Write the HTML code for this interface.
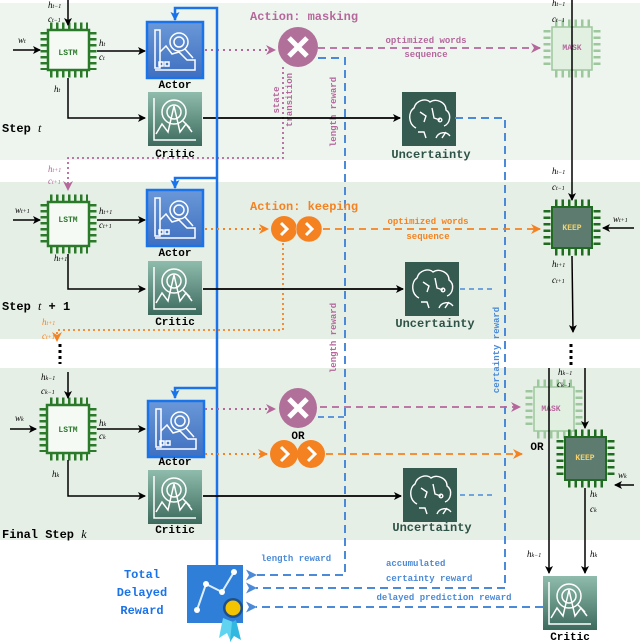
<!DOCTYPE html>
<html><head><meta charset="utf-8"><style>
html,body{margin:0;padding:0;background:#fff}
svg{display:block}
.m{font-family:"Liberation Mono",monospace;font-weight:bold}
.s{font-family:"Liberation Serif",serif;font-style:italic;font-size:9px}
</style></head><body>
<svg width="640" height="642" viewBox="0 0 640 642" xmlns="http://www.w3.org/2000/svg">
<defs>
<marker id="ak" markerWidth="8" markerHeight="8" refX="7" refY="4" orient="auto" markerUnits="userSpaceOnUse"><path d="M0,0 L8,4 L0,8 L2,4z" fill="#000"/></marker>
<marker id="ab" markerWidth="9" markerHeight="9" refX="8" refY="4.5" orient="auto" markerUnits="userSpaceOnUse"><path d="M0,0 L9,4.5 L0,9 L2,4.5z" fill="#1a73e8"/></marker>
<marker id="ad" markerWidth="11" markerHeight="11" refX="1" refY="5.5" orient="auto" markerUnits="userSpaceOnUse"><path d="M11,0 L0,5.5 L11,11 L8,5.5z" fill="#4a8ad8"/></marker>
<marker id="ap" markerWidth="10" markerHeight="10" refX="9" refY="5" orient="auto" markerUnits="userSpaceOnUse"><path d="M0,0 L10,5 L0,10 L3,5z" fill="#b5679c"/></marker>
<marker id="ao" markerWidth="10" markerHeight="10" refX="9" refY="5" orient="auto" markerUnits="userSpaceOnUse"><path d="M0,0 L10,5 L0,10 L3,5z" fill="#f58220"/></marker>
<linearGradient id="ga" x1="0" y1="0" x2="0" y2="1"><stop offset="0" stop-color="#6a98d8"/><stop offset="1" stop-color="#3f6fc0"/></linearGradient>
<linearGradient id="gc" x1="0" y1="0" x2="0" y2="1"><stop offset="0" stop-color="#8fbcad"/><stop offset="1" stop-color="#3c6a5c"/></linearGradient>
<g id="actor"><rect x="0" y="0" width="56" height="56" fill="url(#ga)" stroke="#1a73e8" stroke-width="2.5"/>
<g fill="none" stroke="#fff" stroke-width="1.5"><rect x="8" y="8" width="5" height="38"/><path d="M13,30 L19,24 L25,32 L32,30 L40,38 L48,38 L48,48 L8,48"/><circle cx="32" cy="20" r="9"/><circle cx="32" cy="20" r="5"/><path d="M38,27 L46,36"/><rect x="12" y="40" width="4" height="4"/><rect x="18" y="40" width="4" height="4"/></g></g>
<g id="critic"><rect x="0" y="0" width="54" height="54" fill="url(#gc)"/>
<g fill="none" stroke="#fff" stroke-width="1.5"><path d="M6,6 L6,48 L48,48"/><circle cx="26" cy="20" r="12"/><circle cx="26" cy="20" r="7"/><path d="M8,42 L14,32 L20,40 L26,14 L32,40 L38,32 L44,40"/><path d="M34,28 L42,36"/></g></g>
<g id="unc"><rect x="0" y="0" width="54" height="54" fill="#355a4f"/>
<g fill="none" stroke="#fff" stroke-width="1.4"><path d="M14,36 C6,32 6,20 12,16 C14,8 24,6 28,10 C34,6 44,10 44,18 C50,22 48,32 42,34"/><path d="M18,20 L24,24 L22,30 M30,16 L32,26 L38,28 M16,40 L22,40 L24,46"/><circle cx="38" cy="28" r="1.8"/><path d="M34,46 A8,8 0 0 1 48,44 M40,46 L44,40"/></g></g>
</defs>

<!-- bands -->
<rect x="0" y="3" width="640" height="157" fill="#eef5ee"/>
<rect x="0" y="182" width="640" height="157" fill="#e6efe6"/>
<rect x="0" y="368" width="640" height="172" fill="#e6efe6"/>

<!-- ========== Step t ========== -->
<g stroke="#2a7a2a" fill="none">
<rect x="48" y="30" width="41" height="40" fill="#f5faf5" stroke-width="2.5"/>
<line x1="50" y1="26" x2="88" y2="26" stroke-width="7" stroke-dasharray="2.5 3.5"/>
<line x1="50" y1="74" x2="88" y2="74" stroke-width="7" stroke-dasharray="2.5 3.5"/>
<line x1="44" y1="32" x2="44" y2="70" stroke-width="7" stroke-dasharray="2.5 3.5"/>
<line x1="93" y1="32" x2="93" y2="70" stroke-width="7" stroke-dasharray="2.5 3.5"/>
</g>
<text x="68" y="55" class="m" font-size="8" fill="#2a7a2a" text-anchor="middle">LSTM</text>
<line x1="68" y1="0" x2="68" y2="25" stroke="#000" stroke-width="1.5" marker-end="url(#ak)"/>
<text x="48" y="8" class="s">h<tspan font-size="6">t−1</tspan></text>
<text x="48" y="22" class="s">c<tspan font-size="6">t−1</tspan></text>
<line x1="13" y1="50" x2="40" y2="50" stroke="#000" stroke-width="1.5" marker-end="url(#ak)"/>
<text x="18" y="43" class="s">w<tspan font-size="6">t</tspan></text>
<line x1="97" y1="51" x2="145" y2="51" stroke="#000" stroke-width="1.5" marker-end="url(#ak)"/>
<text x="99" y="46" class="s">h<tspan font-size="6">t</tspan></text>
<text x="99" y="60" class="s">c<tspan font-size="6">t</tspan></text>
<text x="54" y="92" class="s">h<tspan font-size="6">t</tspan></text>
<polyline points="68,78 68,118 145,118" fill="none" stroke="#000" stroke-width="1.5" marker-end="url(#ak)"/>
<use href="#actor" x="147" y="22"/>
<text x="175" y="88" class="m" font-size="11" text-anchor="middle">Actor</text>
<use href="#critic" x="148" y="92"/>
<text x="175" y="157" class="m" font-size="11" text-anchor="middle">Critic</text>
<text x="2" y="132" class="m" font-size="12">Step <tspan font-family="Liberation Serif" font-style="italic" font-weight="normal">t</tspan></text>

<text x="250" y="20" class="m" font-size="12" fill="#b5679c">Action: masking</text>
<line x1="205" y1="50" x2="275" y2="50" stroke="#b5679c" stroke-width="2" stroke-dasharray="2 4" marker-end="url(#ap)"/>
<circle cx="298" cy="47" r="20" fill="#b0709a"/>
<path d="M289,38 L307,56 M307,38 L289,56" stroke="#fff" stroke-width="5"/>
<line x1="318" y1="48" x2="540" y2="48" stroke="#b5679c" stroke-width="1.8" stroke-dasharray="7 5" marker-end="url(#ap)"/>
<text x="426" y="43" class="m" font-size="9" fill="#b5679c" text-anchor="middle">optimized words</text>
<text x="426" y="57" class="m" font-size="9" fill="#b5679c" text-anchor="middle">sequence</text>
<text transform="translate(279,100) rotate(-90)" class="m" font-size="9" fill="#b5679c" font-weight="normal" text-anchor="middle">state</text>
<text transform="translate(292,100) rotate(-90)" class="m" font-size="9" fill="#b5679c" font-weight="normal" text-anchor="middle">transition</text>
<polyline points="283,67 283,158 68,158 68,190" fill="none" stroke="#b5679c" stroke-width="1.8" stroke-dasharray="2 3" marker-end="url(#ap)"/>
<text transform="translate(336,112) rotate(-90)" class="m" font-size="9" fill="#b5679c" font-weight="normal" text-anchor="middle">length reward</text>

<line x1="203" y1="118" x2="400" y2="118" stroke="#000" stroke-width="1.8" marker-end="url(#ak)"/>
<use href="#unc" x="402" y="92"/>
<text x="431" y="158" class="m" font-size="12" fill="#2f5248" text-anchor="middle">Uncertainty</text>

<!-- MASK top -->
<g stroke="#9dc89d" fill="none">
<rect x="552" y="27" width="40" height="43" fill="#e2f0e2" stroke-width="1.5"/>
<line x1="555" y1="23" x2="590" y2="23" stroke-width="7" stroke-dasharray="2.5 4"/>
<line x1="555" y1="74" x2="590" y2="74" stroke-width="7" stroke-dasharray="2.5 4"/>
<line x1="547" y1="30" x2="547" y2="68" stroke-width="7" stroke-dasharray="2.5 4"/>
<line x1="597" y1="30" x2="597" y2="68" stroke-width="7" stroke-dasharray="2.5 4"/>
</g>
<text x="572" y="50" class="m" font-size="8" fill="#b5679c" text-anchor="middle" font-weight="normal">MASK</text>
<line x1="572" y1="0" x2="572" y2="200" stroke="#000" stroke-width="1.5" marker-end="url(#ak)"/>
<text x="552" y="6" class="s">h<tspan font-size="6">t−1</tspan></text>
<text x="552" y="22" class="s">c<tspan font-size="6">t−1</tspan></text>

<!-- blue dashed verticals -->
<polyline points="318,58 345,58 345,575 256,575" fill="none" stroke="#4a8ad8" stroke-width="2" stroke-dasharray="8 5" marker-end="url(#ad)"/>
<polyline points="455,118 505,118 505,588 256,588" fill="none" stroke="#4a8ad8" stroke-width="2" stroke-dasharray="8 5" marker-end="url(#ad)"/>

<!-- blue solid -->
<polyline points="217,565 217,8 175,8 175,20" fill="none" stroke="#1a73e8" stroke-width="2.5" marker-end="url(#ab)"/>
<polyline points="217,178 175,178 175,188" fill="none" stroke="#1a73e8" stroke-width="2.5" marker-end="url(#ab)"/>
<polyline points="217,388 175,388 175,398" fill="none" stroke="#1a73e8" stroke-width="2.5" marker-end="url(#ab)"/>

<!-- ========== Step t+1 ========== -->
<g stroke="#2a7a2a" fill="none">
<rect x="48" y="202" width="41" height="44" fill="#f5faf5" stroke-width="2.5"/>
<line x1="50" y1="198" x2="88" y2="198" stroke-width="7" stroke-dasharray="2.5 3.5"/>
<line x1="50" y1="250" x2="88" y2="250" stroke-width="7" stroke-dasharray="2.5 3.5"/>
<line x1="44" y1="204" x2="44" y2="246" stroke-width="7" stroke-dasharray="2.5 3.5"/>
<line x1="93" y1="204" x2="93" y2="246" stroke-width="7" stroke-dasharray="2.5 3.5"/>
</g>
<text x="68" y="222" class="m" font-size="8" fill="#2a7a2a" text-anchor="middle">LSTM</text>
<text x="48" y="172" class="s" fill="#b5679c">h<tspan font-size="6">t+1</tspan></text>
<text x="48" y="184" class="s" fill="#b5679c">c<tspan font-size="6">t+1</tspan></text>
<line x1="13" y1="220" x2="40" y2="220" stroke="#000" stroke-width="1.5" marker-end="url(#ak)"/>
<text x="15" y="213" class="s">w<tspan font-size="6">t+1</tspan></text>
<line x1="97" y1="220" x2="145" y2="220" stroke="#000" stroke-width="1.5" marker-end="url(#ak)"/>
<text x="99" y="214" class="s">h<tspan font-size="6">t+1</tspan></text>
<text x="99" y="228" class="s">c<tspan font-size="6">t+1</tspan></text>
<text x="54" y="261" class="s">h<tspan font-size="6">t+1</tspan></text>
<polyline points="68,254 68,289 145,289" fill="none" stroke="#000" stroke-width="1.5" marker-end="url(#ak)"/>
<use href="#actor" x="147" y="190"/>
<text x="175" y="256" class="m" font-size="11" text-anchor="middle">Actor</text>
<use href="#critic" x="148" y="261"/>
<text x="175" y="325" class="m" font-size="11" text-anchor="middle">Critic</text>
<text x="2" y="310" class="m" font-size="12">Step <tspan font-family="Liberation Serif" font-style="italic" font-weight="normal">t</tspan> + 1</text>

<text x="250" y="210" class="m" font-size="12" fill="#f58220">Action: keeping</text>
<line x1="205" y1="229" x2="268" y2="229" stroke="#f58220" stroke-width="2" stroke-dasharray="2 4" marker-end="url(#ao)"/>
<circle cx="284" cy="229" r="13" fill="#f58220"/>
<circle cx="309" cy="229" r="13" fill="#f58220" stroke="#e8e8e8" stroke-width="0.5"/>
<path d="M281,223 L287,229 L281,235 M306,223 L312,229 L306,235" stroke="#fff" stroke-width="3" fill="none"/>
<line x1="323" y1="229" x2="540" y2="229" stroke="#f58220" stroke-width="1.8" stroke-dasharray="7 5" marker-end="url(#ao)"/>
<text x="428" y="224" class="m" font-size="9" fill="#f58220" text-anchor="middle">optimized words</text>
<text x="428" y="239" class="m" font-size="9" fill="#f58220" text-anchor="middle">sequence</text>
<polyline points="283,243 283,330 57,330 57,341" fill="none" stroke="#f58220" stroke-width="1.8" stroke-dasharray="2 3" marker-end="url(#ao)"/>
<text x="42" y="325" class="s" fill="#f58220">h<tspan font-size="6">t+1</tspan></text>
<text x="42" y="339" class="s" fill="#f58220">c<tspan font-size="6">t+1</tspan></text>
<text transform="translate(336,338) rotate(-90)" class="m" font-size="9" fill="#b5679c" font-weight="normal" text-anchor="middle">length reward</text>

<line x1="203" y1="289" x2="403" y2="289" stroke="#000" stroke-width="1.8" marker-end="url(#ak)"/>
<use href="#unc" x="405" y="262"/>
<text x="435" y="327" class="m" font-size="12" fill="#2f5248" text-anchor="middle">Uncertainty</text>
<line x1="460" y1="289" x2="496" y2="289" stroke="#4a8ad8" stroke-width="1.5" stroke-dasharray="5 4"/>
<text transform="translate(499,350) rotate(-90)" class="m" font-size="9" fill="#4a8ad8" font-weight="normal" text-anchor="middle">certainty reward</text>

<!-- KEEP t+1 -->
<g stroke="#1f6b1f" fill="none">
<rect x="552" y="207" width="40" height="41" fill="#5e7b70" stroke-width="2"/>
<line x1="555" y1="203" x2="590" y2="203" stroke-width="7" stroke-dasharray="2.5 4"/>
<line x1="555" y1="252" x2="590" y2="252" stroke-width="7" stroke-dasharray="2.5 4"/>
<line x1="547" y1="210" x2="547" y2="246" stroke-width="7" stroke-dasharray="2.5 4"/>
<line x1="597" y1="210" x2="597" y2="246" stroke-width="7" stroke-dasharray="2.5 4"/>
</g>
<text x="572" y="230" class="m" font-size="8" fill="#f5d36a" text-anchor="middle">KEEP</text>
<text x="552" y="174" class="s">h<tspan font-size="6">t−1</tspan></text>
<text x="552" y="190" class="s">c<tspan font-size="6">t−1</tspan></text>
<line x1="634" y1="228" x2="603" y2="228" stroke="#000" stroke-width="1.5" marker-end="url(#ak)"/>
<text x="613" y="222" class="s">w<tspan font-size="6">t+1</tspan></text>
<line x1="572" y1="256" x2="573" y2="332" stroke="#000" stroke-width="1.5" marker-end="url(#ak)"/>
<text x="552" y="267" class="s">h<tspan font-size="6">t+1</tspan></text>
<text x="552" y="283" class="s">c<tspan font-size="6">t+1</tspan></text>

<!-- dots -->
<line x1="60" y1="344" x2="60" y2="364" stroke="#000" stroke-width="3" stroke-dasharray="3 3"/>
<line x1="571" y1="344" x2="571" y2="366" stroke="#000" stroke-width="3" stroke-dasharray="3 3"/>

<!-- ========== Final ========== -->
<g stroke="#2a7a2a" fill="none">
<rect x="47" y="405" width="42" height="48" fill="#f5faf5" stroke-width="2.5"/>
<line x1="50" y1="401" x2="88" y2="401" stroke-width="7" stroke-dasharray="2.5 3.5"/>
<line x1="50" y1="457" x2="88" y2="457" stroke-width="7" stroke-dasharray="2.5 3.5"/>
<line x1="43" y1="408" x2="43" y2="452" stroke-width="7" stroke-dasharray="2.5 3.5"/>
<line x1="93" y1="408" x2="93" y2="452" stroke-width="7" stroke-dasharray="2.5 3.5"/>
</g>
<text x="68" y="432" class="m" font-size="8" fill="#2a7a2a" text-anchor="middle">LSTM</text>
<line x1="68" y1="372" x2="68" y2="398" stroke="#000" stroke-width="1.5" marker-end="url(#ak)"/>
<text x="41" y="380" class="s">h<tspan font-size="6">k−1</tspan></text>
<text x="41" y="394" class="s">c<tspan font-size="6">k−1</tspan></text>
<line x1="10" y1="429" x2="36" y2="429" stroke="#000" stroke-width="1.5" marker-end="url(#ak)"/>
<text x="15" y="421" class="s">w<tspan font-size="6">k</tspan></text>
<line x1="97" y1="429" x2="145" y2="429" stroke="#000" stroke-width="1.5" marker-end="url(#ak)"/>
<text x="99" y="426" class="s">h<tspan font-size="6">k</tspan></text>
<text x="99" y="439" class="s">c<tspan font-size="6">k</tspan></text>
<text x="52" y="477" class="s">h<tspan font-size="6">k</tspan></text>
<polyline points="68,460 68,496 145,496" fill="none" stroke="#000" stroke-width="1.5" marker-end="url(#ak)"/>
<use href="#actor" x="148" y="401"/>
<text x="175" y="465" class="m" font-size="11" text-anchor="middle">Actor</text>
<use href="#critic" x="148" y="470"/>
<text x="175" y="533" class="m" font-size="11" text-anchor="middle">Critic</text>
<text x="2" y="538" class="m" font-size="12">Final Step <tspan font-family="Liberation Serif" font-style="italic" font-weight="normal">k</tspan></text>

<line x1="205" y1="409" x2="275" y2="409" stroke="#b5679c" stroke-width="2" stroke-dasharray="2 4" marker-end="url(#ap)"/>
<ellipse cx="298" cy="408" rx="19" ry="20" fill="#b0709a"/>
<path d="M289,399 L307,417 M307,399 L289,417" stroke="#fff" stroke-width="5"/>
<line x1="320" y1="407" x2="520" y2="407" stroke="#b5679c" stroke-width="1.8" stroke-dasharray="7 5" marker-end="url(#ap)"/>
<line x1="318" y1="417" x2="345" y2="417" stroke="#4a8ad8" stroke-width="1.8" stroke-dasharray="6 4"/>
<text x="298" y="439" class="m" font-size="11" font-weight="normal" fill="#000" text-anchor="middle">OR</text>
<line x1="205" y1="454" x2="267" y2="454" stroke="#f58220" stroke-width="2" stroke-dasharray="2 4" marker-end="url(#ao)"/>
<circle cx="284" cy="454" r="14" fill="#f58220"/>
<circle cx="311" cy="454" r="14" fill="#f58220"/>
<path d="M281,447 L288,454 L281,461 M308,447 L315,454 L308,461" stroke="#fff" stroke-width="3" fill="none"/>
<line x1="326" y1="454" x2="522" y2="454" stroke="#f58220" stroke-width="1.8" stroke-dasharray="7 5" marker-end="url(#ao)"/>

<line x1="203" y1="496" x2="401" y2="496" stroke="#000" stroke-width="1.8" marker-end="url(#ak)"/>
<use href="#unc" x="403" y="468"/>
<text x="432" y="531" class="m" font-size="12" fill="#2f5248" text-anchor="middle">Uncertainty</text>
<line x1="460" y1="495" x2="492" y2="495" stroke="#4a8ad8" stroke-width="1.5" stroke-dasharray="5 4"/>

<!-- MASK final -->
<g stroke="#9dc89d" fill="none">
<rect x="534" y="387" width="40" height="44" fill="#e2f0e2" stroke-width="1.5"/>
<line x1="537" y1="383" x2="572" y2="383" stroke-width="7" stroke-dasharray="2.5 4"/>
<line x1="537" y1="435" x2="572" y2="435" stroke-width="7" stroke-dasharray="2.5 4"/>
<line x1="529" y1="390" x2="529" y2="428" stroke-width="7" stroke-dasharray="2.5 4"/>
<line x1="579" y1="390" x2="579" y2="428" stroke-width="7" stroke-dasharray="2.5 4"/>
</g>
<text x="551" y="411" class="m" font-size="8" fill="#b5679c" text-anchor="middle" font-weight="normal">MASK</text>
<text x="537" y="450" class="m" font-size="11" font-weight="normal" fill="#000" text-anchor="middle">OR</text>
<!-- KEEP final -->
<g stroke="#1f6b1f" fill="none">
<rect x="565" y="437" width="41" height="43" fill="#5e7b70" stroke-width="2"/>
<line x1="568" y1="433" x2="604" y2="433" stroke-width="7" stroke-dasharray="2.5 4"/>
<line x1="568" y1="484" x2="604" y2="484" stroke-width="7" stroke-dasharray="2.5 4"/>
<line x1="560" y1="440" x2="560" y2="478" stroke-width="7" stroke-dasharray="2.5 4"/>
<line x1="611" y1="440" x2="611" y2="478" stroke-width="7" stroke-dasharray="2.5 4"/>
</g>
<text x="585" y="460" class="m" font-size="8" fill="#f5d36a" text-anchor="middle">KEEP</text>
<line x1="585" y1="368" x2="585" y2="428" stroke="#000" stroke-width="1.5" marker-end="url(#ak)"/>
<text x="558" y="375" class="s">h<tspan font-size="6">k−1</tspan></text>
<text x="557" y="387" class="s">c<tspan font-size="6">k−1</tspan></text>
<line x1="634" y1="485" x2="615" y2="485" stroke="#000" stroke-width="1.5" marker-end="url(#ak)"/>
<text x="618" y="478" class="s">w<tspan font-size="6">k</tspan></text>
<line x1="549" y1="368" x2="549" y2="573" stroke="#000" stroke-width="1.5" marker-end="url(#ak)"/>
<line x1="585" y1="488" x2="585" y2="573" stroke="#000" stroke-width="1.5" marker-end="url(#ak)"/>
<text x="590" y="497" class="s">h<tspan font-size="6">k</tspan></text>
<text x="590" y="512" class="s">c<tspan font-size="6">k</tspan></text>
<text x="527" y="557" class="s">h<tspan font-size="6">k−1</tspan></text>
<text x="590" y="557" class="s">h<tspan font-size="6">k</tspan></text>
<use href="#critic" x="543" y="576"/>
<text x="570" y="640" class="m" font-size="11" text-anchor="middle">Critic</text>

<!-- rewards -->
<text x="296" y="561" class="m" font-size="9" font-weight="normal" fill="#4a8ad8" text-anchor="middle">length reward</text>
<text x="386" y="566" class="m" font-size="9" font-weight="normal" fill="#4a8ad8">accumulated</text>
<text x="386" y="581" class="m" font-size="9" font-weight="normal" fill="#4a8ad8">certainty reward</text>
<text x="444" y="600" class="m" font-size="9" font-weight="normal" fill="#4a8ad8" text-anchor="middle">delayed prediction reward</text>
<line x1="543" y1="607" x2="256" y2="607" stroke="#4a8ad8" stroke-width="2" stroke-dasharray="8 5" marker-end="url(#ad)"/>

<!-- total reward icon -->
<rect x="187" y="565" width="56" height="58" fill="#2f7fd8"/>
<polyline points="197,610 206,584 222,592 234,572" fill="none" stroke="#dfeeff" stroke-width="2"/>
<g fill="#fff"><circle cx="197" cy="610" r="3"/><circle cx="206" cy="584" r="3"/><circle cx="222" cy="592" r="3"/><circle cx="234" cy="572" r="3"/></g>
<path d="M223,618 L219,638 L227,633 L231,642 L233,622z" fill="#5fd3f0"/>
<path d="M236,620 L241,640 L234,636 L230,642 L232,622z" fill="#30b8e0"/>
<circle cx="233" cy="608" r="10" fill="#1d4f8c"/>
<circle cx="233" cy="608" r="7.5" fill="#f5c400"/>
<text x="142" y="578" class="m" font-size="12" fill="#1a73e8" text-anchor="middle">Total</text>
<text x="142" y="596" class="m" font-size="12" fill="#1a73e8" text-anchor="middle">Delayed</text>
<text x="142" y="614" class="m" font-size="12" fill="#1a73e8" text-anchor="middle">Reward</text>
</svg>
</body></html>
